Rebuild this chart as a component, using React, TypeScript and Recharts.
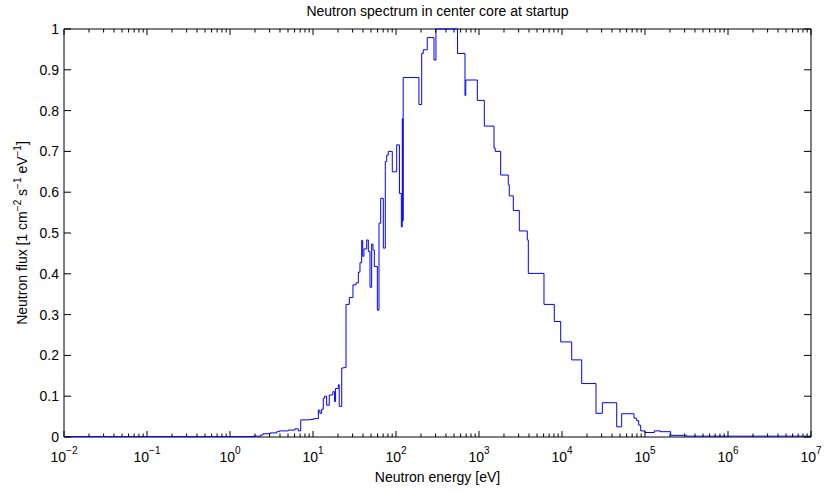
import React from 'react';
import { LineChart, Line, XAxis, YAxis, ReferenceArea } from 'recharts';

// step edges of the spectrum (eV) and the flux that holds from each edge on
const energy = [
  0.01, 1.89, 2.34, 2.5, 3.03, 3.65, 3.93, 5.04, 6.07, 6.65,
  7.11, 9.2, 10.1, 11.6, 12.1, 12.7, 13.3, 13.8, 14.6, 15.7,
  17.3, 18.2, 18.7, 20.2, 20.7, 22.2, 23.2, 25.0, 27.4, 30.3,
  33.0, 35.2, 36.8, 38.6, 39.7, 41.1, 44.4, 46.4, 48.6, 50.9,
  52.8, 54.8, 59.6, 62.4, 65.4, 70.3, 74.3, 77.3, 80.8, 90.2,
  102, 110, 116, 119, 121, 122, 189, 204, 213, 238,
  287, 303, 551, 678, 693, 955, 1159, 1517, 1568, 1825,
  2254, 2317, 2589, 3060, 3819, 3928, 6067, 8079, 9644, 13090,
  17270, 25690, 30620, 45620, 52360, 73660, 79400, 83950, 88740, 100000,
  129500, 151700, 204000, 318000, 10000000,
];
const flux = [
  0.001, 0.002, 0.005, 0.008, 0.010, 0.013, 0.015, 0.017, 0.020, 0.015,
  0.042, 0.043, 0.045, 0.066, 0.058, 0.068, 0.095, 0.100, 0.078, 0.103,
  0.111, 0.087, 0.119, 0.128, 0.075, 0.169, 0.170, 0.325, 0.342, 0.373,
  0.378, 0.404, 0.427, 0.482, 0.443, 0.461, 0.483, 0.455, 0.367, 0.473,
  0.458, 0.418, 0.311, 0.524, 0.585, 0.463, 0.675, 0.691, 0.700, 0.650,
  0.716, 0.597, 0.515, 0.780, 0.530, 0.881, 0.815, 0.940, 0.949, 0.979,
  0.924, 1.0, 0.940, 0.837, 0.875, 0.825, 0.762, 0.708, 0.700, 0.642,
  0.618, 0.591, 0.555, 0.505, 0.483, 0.401, 0.325, 0.283, 0.233, 0.189,
  0.131, 0.058, 0.084, 0.025, 0.057, 0.046, 0.040, 0.029, 0.015, 0.011,
  0.015, 0.013, 0.004, 0.002, 0.002,
];

const yTicks = [0, 0.1, 0.2, 0.3, 0.4, 0.5, 0.6, 0.7, 0.8, 0.9, 1];
const decades = [-2, -1, 0, 1, 2, 3, 4, 5, 6, 7];

const data = energy.map((e, i) => ({ e, f: flux[i] }));

const xTicks: number[] = [];
decades.forEach((d) => {
  xTicks.push(Math.pow(10, d));
  if (d < 7) for (let k = 2; k <= 9; k++) xTicks.push(k * Math.pow(10, d));
});

const W = 824;
const H = 491;
const TOP = 29;
const BOTTOM = 437;
const LEFT = 64;
const RIGHT = 811;
const FONT = '"Liberation Sans", Arial, Helvetica, sans-serif';

function XTick(props: any) {
  const { x, payload } = props;
  const v = payload.value;
  const exp = Math.round(Math.log10(v));
  const major = Math.abs(v / Math.pow(10, exp) - 1) < 1e-6;
  const len = major ? 6 : 3.5;
  return (
    <g>
      <line x1={x} x2={x} y1={BOTTOM} y2={BOTTOM - len} stroke="#000" />
      <line x1={x} x2={x} y1={TOP} y2={TOP + len} stroke="#000" />
      {major && (
        <text x={x} y={462} textAnchor="middle" fontSize={14} fontFamily={FONT} fill="#000">
          10
          <tspan dy={-8} fontSize={10}>{exp < 0 ? '\u2212' + -exp : exp}</tspan>
        </text>
      )}
    </g>
  );
}

function YTick(props: any) {
  const { y, payload } = props;
  return (
    <g>
      <line x1={LEFT} x2={LEFT + 7} y1={y} y2={y} stroke="#000" />
      <line x1={RIGHT} x2={RIGHT - 7} y1={y} y2={y} stroke="#000" />
      <text x={59} y={y} dy="0.35em" textAnchor="end" fontSize={14} fontFamily={FONT} fill="#000">
        {String(payload.value)}
      </text>
    </g>
  );
}

function YLabel() {
  const cx = 27;
  const cy = 233;
  return (
    <text
      x={cx}
      y={cy}
      transform={`rotate(-90, ${cx}, ${cy})`}
      textAnchor="middle"
      fontSize={14}
      fontFamily={FONT}
      fill="#000"
    >
      Neutron flux [1 cm
      <tspan dy={-6} fontSize={10}>{'\u22122'}</tspan>
      <tspan dy={6}> s</tspan>
      <tspan dy={-6} fontSize={10}>{'\u22121'}</tspan>
      <tspan dy={6}> eV</tspan>
      <tspan dy={-6} fontSize={10}>{'\u22121'}</tspan>
      <tspan dy={6}>]</tspan>
    </text>
  );
}

function XLabel() {
  return (
    <text x={(LEFT + RIGHT) / 2} y={482} textAnchor="middle" fontSize={14} fontFamily={FONT} fill="#000">
      Neutron energy [eV]
    </text>
  );
}

export default function App() {
  return (
    <div style={{ position: 'absolute', left: 0, top: 0, width: W, height: H, background: '#fff' }}>
      <div
        style={{
          position: 'absolute',
          left: LEFT,
          width: RIGHT - LEFT,
          top: 3,
          textAlign: 'center',
          fontFamily: FONT,
          fontSize: 14,
          color: '#000',
        }}
      >
        Neutron spectrum in center core at startup
      </div>
      <LineChart width={W} height={H} data={data} margin={{ top: TOP, right: W - RIGHT, bottom: 0, left: 0 }}>
        <XAxis
          dataKey="e"
          type="number"
          scale="log"
          domain={[0.01, 1e7]}
          allowDataOverflow
          ticks={xTicks}
          interval={0}
          tick={<XTick />}
          tickLine={false}
          axisLine={false}
          height={H - BOTTOM}
          label={<XLabel />}
        />
        <YAxis
          type="number"
          domain={[0, 1]}
          ticks={yTicks}
          interval={0}
          tick={<YTick />}
          tickLine={false}
          axisLine={false}
          width={LEFT}
          label={<YLabel />}
        />
        <ReferenceArea x1={0.01} x2={1e7} y1={0} y2={1} fill="none" stroke="#000" strokeWidth={1} />
        <Line
          dataKey="f"
          type="stepAfter"
          stroke="#0000ff"
          strokeWidth={1}
          dot={false}
          activeDot={false}
          isAnimationActive={false}
        />
      </LineChart>
    </div>
  );
}
